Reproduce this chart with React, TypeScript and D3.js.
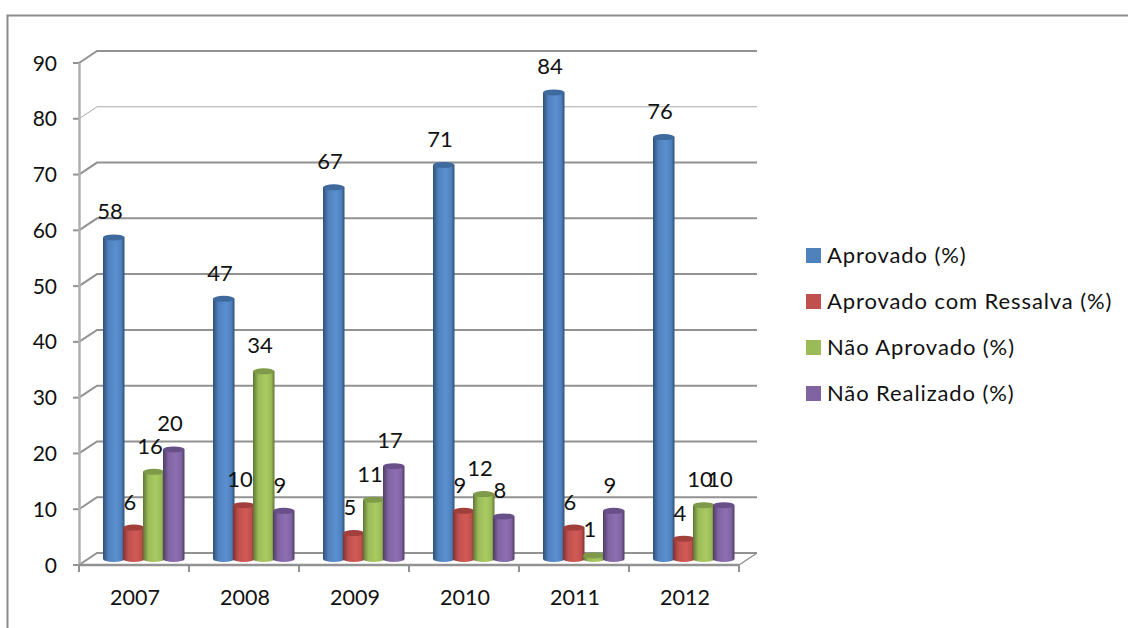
import React from "react";
import { scaleBand, scaleLinear, range } from "d3";

const years = ["2007", "2008", "2009", "2010", "2011", "2012"];
const seriesNames = ["Aprovado (%)", "Aprovado com Ressalva (%)", "Não Aprovado (%)", "Não Realizado (%)"];
const aprovado = [58, 47, 67, 71, 84, 76];
const ressalva = [6, 10, 5, 9, 6, 4];
const naoAprovado = [16, 34, 11, 12, 1, 10];
const naoRealizado = [20, 9, 17, 8, 9, 10];
const yTicks = [0, 10, 20, 30, 40, 50, 60, 70, 80, 90];
const thinTicks = [80];

const allSeries = [aprovado, ressalva, naoAprovado, naoRealizado];
const colors = ["#4f81bd", "#c0504d", "#9bbb59", "#8064a2"];
const darks = ["#2f5078", "#7f3230", "#5f7536", "#4e3d64"];
const lights = ["#5a90d0", "#d25a56", "#a9cb62", "#8d6fb3"];
const tops = ["#3f6a9e", "#a03f3c", "#7f9a48", "#684f88"];

const font = "Lato, 'Open Sans', sans-serif";
const axisColor = "#929292";
const depthX = 18;
const depthY = 12;

const x = scaleBand<string>().domain(years).range([79, 739]);
const y = scaleLinear().domain([0, 90]).range([565, 63]);
const topShift = -4; // cylinders stand a little behind the front edge
const bottomShift = -6;
const groupLeft = 25;
const barStep = 20;
const barW = 21.5;

export default function App() {
  return (
    <svg width={1128} height={628} style={{ position: "absolute", left: 0, top: 0, background: "#fff" }}>
      <defs>
        {colors.map((c, i) => (
          <linearGradient key={c} id={`cyl${i}`} x1="0" x2="1" y1="0" y2="0">
            <stop offset="0%" stopColor={darks[i]} />
            <stop offset="25%" stopColor={c} />
            <stop offset="60%" stopColor={lights[i]} />
            <stop offset="85%" stopColor={c} />
            <stop offset="100%" stopColor={darks[i]} />
          </linearGradient>
        ))}
      </defs>

      {/* frame */}
      <path d="M7.5,628V15.5H1128" fill="none" stroke="#8a8a8a" strokeWidth={2} />

      {/* wall grid lines */}
      {yTicks.map(t => (
        <g key={t}>
          <path
            d={`M${x.range()[0]},${y(t)}L${x.range()[0] + depthX},${y(t) - depthY}H${x.range()[1] + depthX}`}
            fill="none"
            stroke={axisColor}
            strokeOpacity={thinTicks.includes(t) ? 0.8 : 1}
            strokeWidth={thinTicks.includes(t) ? 1 : 2}
          />
          <line x1={73} x2={x.range()[0]} y1={y(t)} y2={y(t)} stroke={axisColor} strokeWidth={2} />
          <text x={57} y={y(t)} dy="0.36em" textAnchor="end" fontFamily={font} fontSize={21} fill="#111">
            {t}
          </text>
        </g>
      ))}

      {/* axes */}
      <line x1={79.5} x2={79.5} y1={y(90)} y2={y(0)} stroke="#b0b0b0" strokeWidth={2.5} />
      <line x1={79} x2={739} y1={y(0)} y2={y(0)} stroke={axisColor} strokeWidth={2.5} />
      <line x1={739} x2={739 + depthX} y1={y(0)} y2={y(0) - depthY} stroke={axisColor} strokeWidth={1.5} />
      {range(years.length + 1).map(i => (
        <line
          key={i}
          x1={79 + i * x.step()}
          x2={79 + i * x.step()}
          y1={y(0)}
          y2={572}
          stroke={axisColor}
          strokeWidth={2}
        />
      ))}
      {years.map(yr => (
        <text
          key={yr}
          x={(x(yr) as number) + x.bandwidth() / 2 + 1}
          y={605}
          textAnchor="middle"
          fontFamily={font}
          fontSize={21.5}
          fill="#111"
        >
          {yr}
        </text>
      ))}

      {/* cylinders */}
      {allSeries.map((values, s) =>
        values.map((v, i) => {
          const left = (x(years[i]) as number) + groupLeft + s * barStep - 1;
          const cx = left + barW / 2;
          const rx = barW / 2;
          const bottom = y(0) + bottomShift;
          const top = y(v) + topShift;
          return (
            <g key={`${s}-${i}`}>
              <path
                d={`M${left},${top}V${bottom}A${rx},3 0 0 0 ${left + barW},${bottom}V${top}Z`}
                fill={`url(#cyl${s})`}
              />
              <ellipse cx={cx} cy={top} rx={rx} ry={3} fill={tops[s]} />
            </g>
          );
        })
      )}

      {/* value labels */}
      {allSeries.map((values, s) =>
        values.map((v, i) => (
          <text
            key={`${s}-${i}`}
            x={(x(years[i]) as number) + groupLeft + s * barStep + barStep / 2 - 4}
            y={y(v) - 22}
            textAnchor="middle"
            fontFamily={font}
            fontSize={22}
            fill="#111"
          >
            {v}
          </text>
        ))
      )}

      {/* legend */}
      {seriesNames.map((name, i) => (
        <g key={name}>
          <rect x={806} y={248 + i * 46} width={15} height={15} fill={colors[i]} />
          <text
            x={827}
            y={255 + i * 46}
            dy="0.35em"
            fontFamily={font}
            fontSize={22}
            letterSpacing={0.9}
            fill="#111"
          >
            {name}
          </text>
        </g>
      ))}
    </svg>
  );
}
